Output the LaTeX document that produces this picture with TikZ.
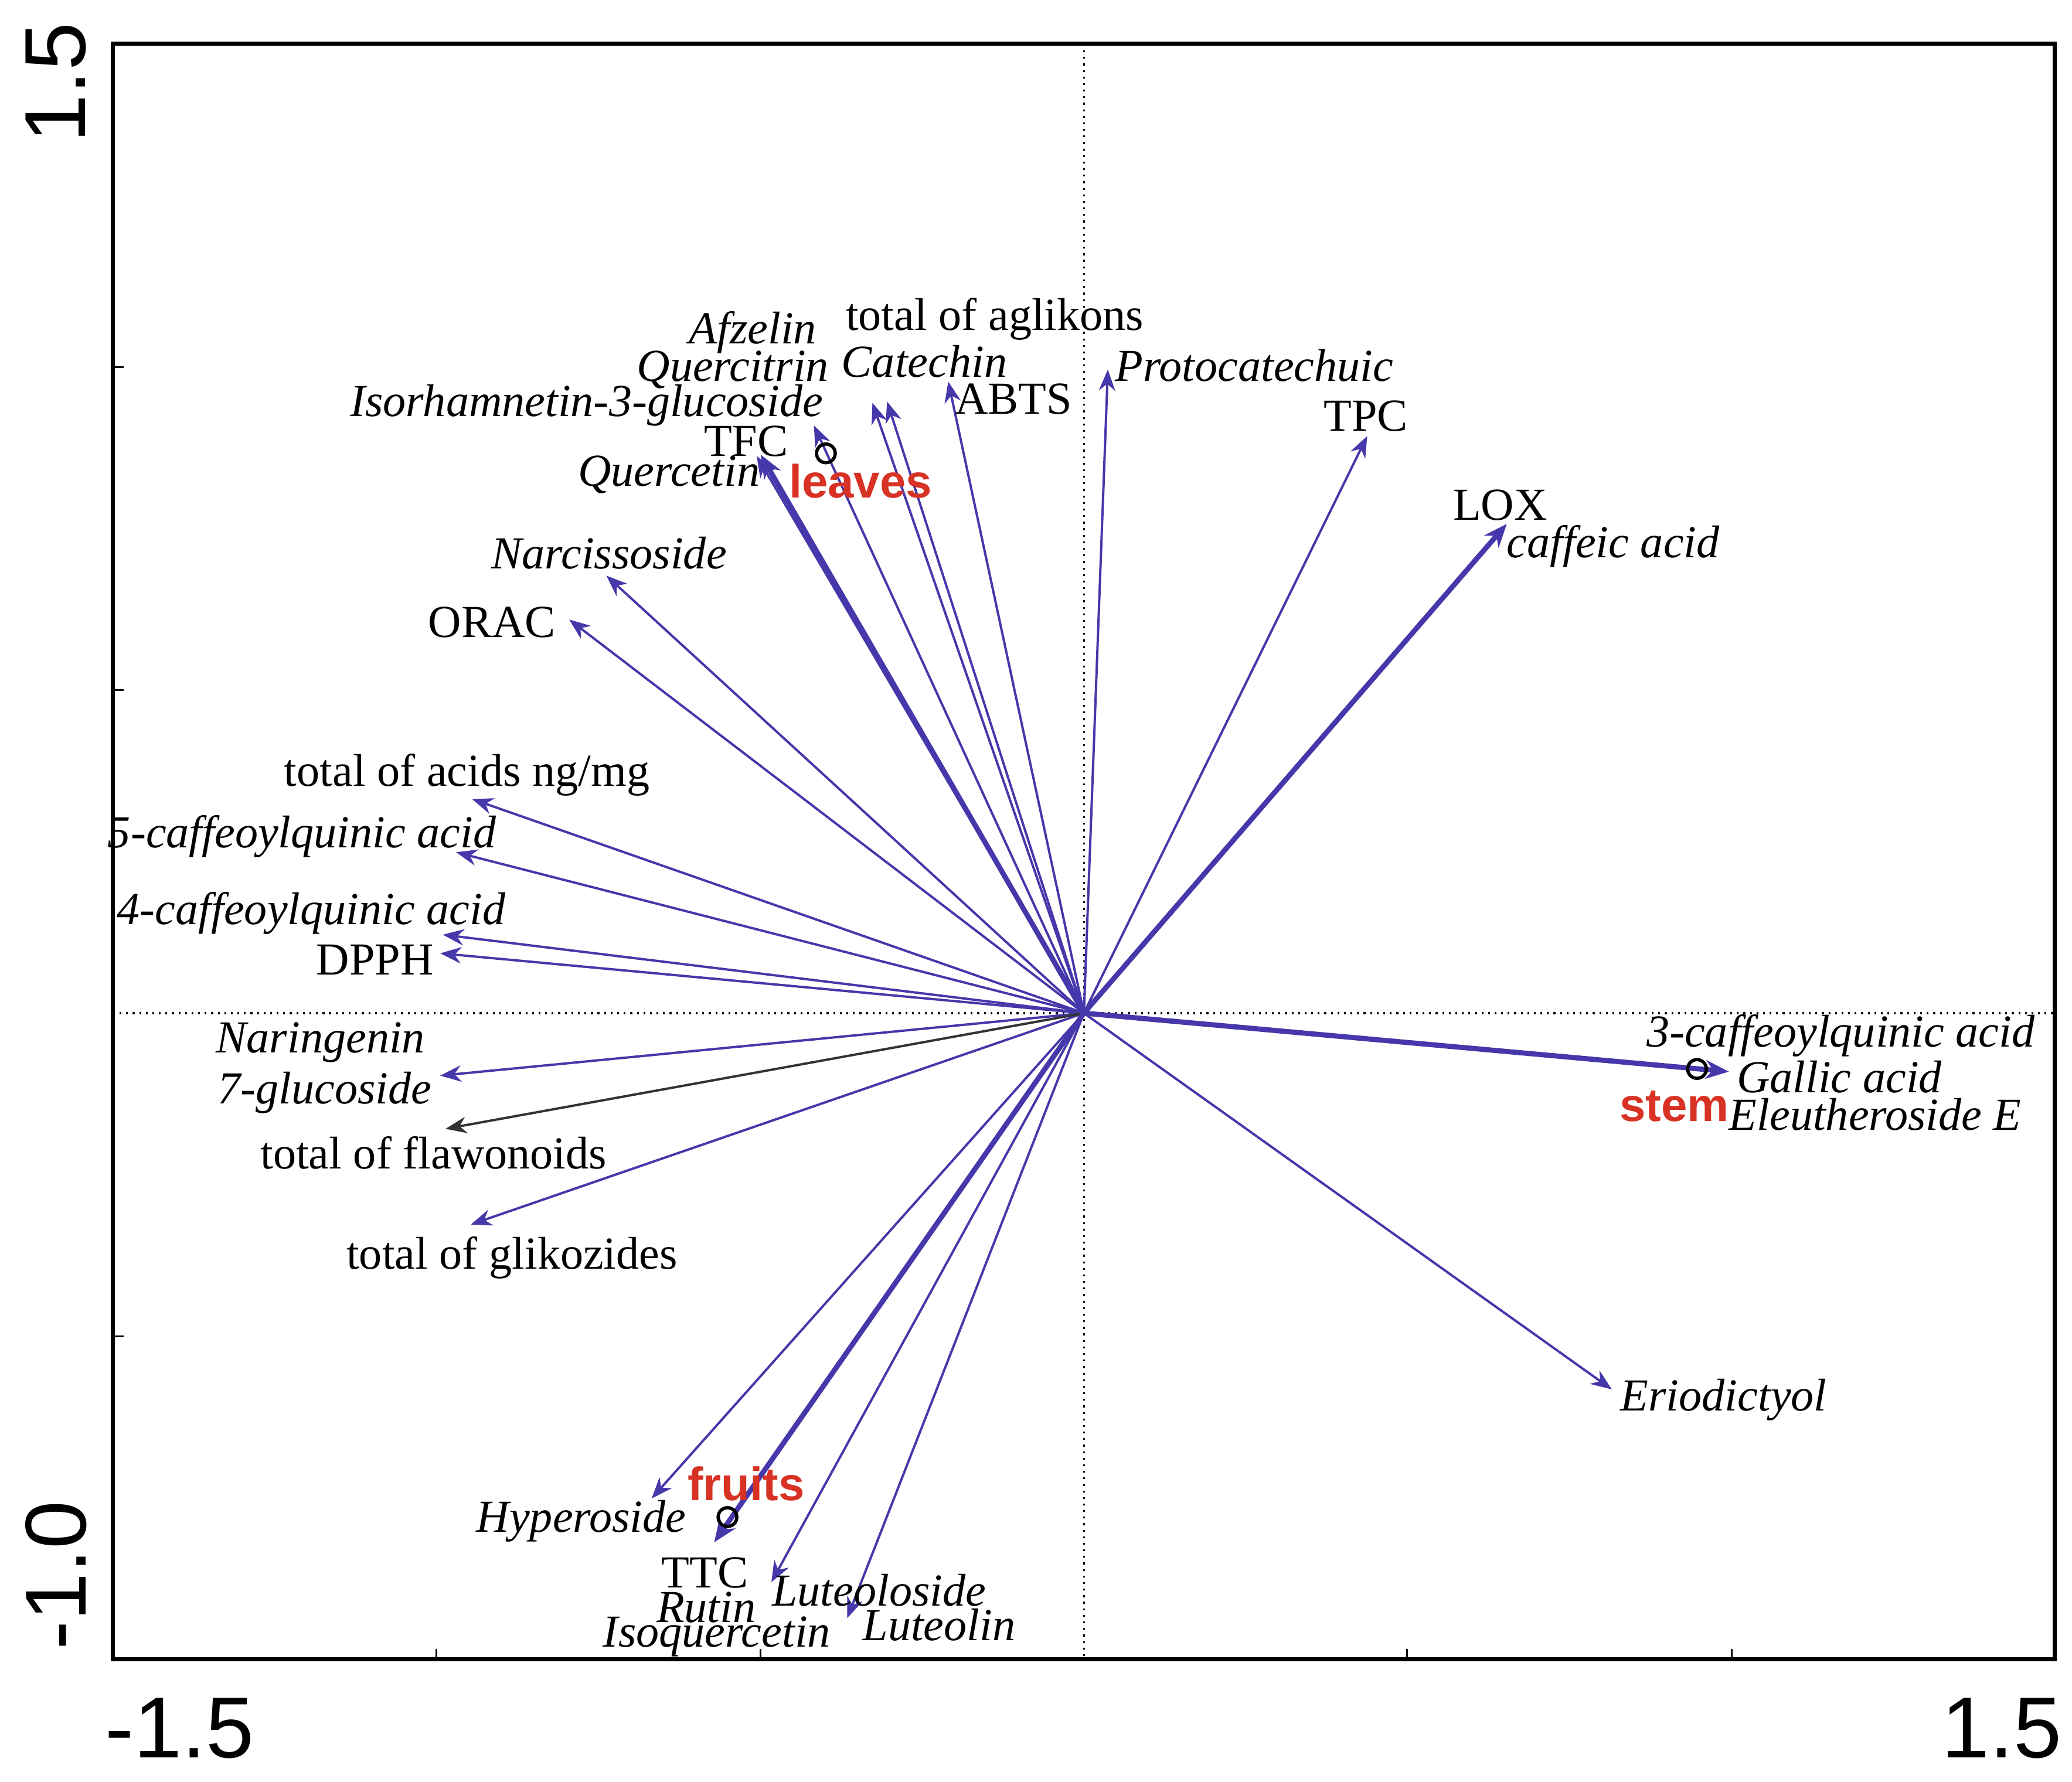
\documentclass[tikz,border=0pt]{standalone}
\usepackage{fontspec}
\setmainfont{Liberation Serif}
\newfontfamily\axfont{Liberation Sans}
\usetikzlibrary{arrows.meta}
\definecolor{arr}{RGB}{70,55,170}
\definecolor{lab}{RGB}{215,50,35}
\tikzset{
  vec/.style={arr,line width=0.5pt,-{Stealth[length=4.5pt,width=3.5pt]}},
  vecb/.style={arr,line width=1.1pt,-{Stealth[length=5pt,width=4pt]}},
  t/.style={font=\fontsize{9.8}{10}\selectfont,inner sep=0pt},
  ti/.style={font=\fontsize{9.8}{10}\selectfont\itshape,inner sep=0pt},
  grp/.style={font=\axfont\bfseries\fontsize{10}{10}\selectfont,text=lab,inner sep=0pt},
  ax/.style={font=\axfont\fontsize{18.5}{19}\selectfont,inner sep=0pt},
  pt/.style={circle,draw=black,line width=0.7pt,minimum size=4pt,inner sep=0pt}
}
\begin{document}
\begin{tikzpicture}[x=0.01cm,y=-0.01cm]
\useasboundingbox[fill=white] (0,0) rectangle (1558,1340);
\draw[line width=0.9pt] (85,33) rectangle (1545,1248);
\draw[densely dotted,line width=0.4pt] (815,33) -- (815,1248);
\draw[densely dotted,line width=0.4pt] (85,762) -- (1545,762);
\foreach \y in {276,519,1005} \draw (85,\y) -- (93,\y);
\foreach \x in {328,572,1058,1302} \draw (\x,1248) -- (\x,1240);
\node[ax,rotate=90] (y1) at (42,62) {1.5};
\node[ax,rotate=90] (y2) at (42,1185) {-1.0};
\node[ax] (x1) at (135,1300) {-1.5};
\node[ax] (x2) at (1505,1300) {1.5};
\coordinate (o) at (815,762);
\foreach \x/\y in {833/278,1028/328,713/287,667/302,656/303,612/320,569/343,456/433,428/466,355/601,343/641,333/703,331/717,331/809,354/921,490/1127,580/1190,637/1217,1212/1045}
  \draw[vec] (o) -- (\x,\y);
\draw[vec,black!80] (o) -- (335,849);
\draw[vecb] (o) -- (1133,394);
\draw[vecb] (o) -- (572,342);
\draw[vecb] (o) -- (537,1160);
\draw[vecb] (o) -- (1300,806);
\node[pt] (leaves) at (621,341) {};
\node[pt] (fruits) at (547,1141) {};
\node[pt] (stem) at (1276,804) {};
\node[t] (l1) at (748,240) {total of aglikons};
\node[ti] (l2) at (566,250) {Afzelin};
\node[ti] (l3) at (551,278) {Quercitrin};
\node[ti] (l4) at (695,272) {Catechin};
\node[ti] (l5) at (943,275) {Protocatechuic};
\node[ti] (l6) at (441,305) {Isorhamnetin-3-glucoside};
\node[t] (l7) at (762,300) {ABTS};
\node[t] (l8) at (1027,313) {TPC};
\node[t] (l9) at (561,332) {TFC};
\node[ti] (l10) at (503,357) {Quercetin};
\node[grp] (g1) at (647,362) {leaves};
\node[t] (l11) at (1128,380) {LOX};
\node[ti] (l12) at (1213,411) {caffeic acid};
\node[ti] (l13) at (458,416) {Narcissoside};
\node[t] (l14) at (370,468) {ORAC};
\node[t] (l15) at (351,583) {total of acids ng/mg};
\node[ti] (l16) at (227,629) {5-caffeoylquinic acid};
\node[ti] (l17) at (234,687) {4-caffeoylquinic acid};
\node[t] (l18) at (282,722) {DPPH};
\node[ti] (l19) at (241,784) {Naringenin};
\node[ti] (l20) at (244,822) {7-glucoside};
\node[t] (l21) at (326,867) {total of flawonoids};
\node[t] (l22) at (385,946) {total of glikozides};
\node[ti] (l23) at (1384,779) {3-caffeoylquinic acid};
\node[ti] (l24) at (1383,810) {Gallic acid};
\node[grp] (g2) at (1259,832) {stem};
\node[ti] (l25) at (1410,838) {Eleutheroside E};
\node[ti] (l26) at (1296,1053) {Eriodictyol};
\node[grp] (g3) at (561,1116) {fruits};
\node[ti] (l27) at (437,1144) {Hyperoside};
\node[t] (l28) at (530,1183) {TTC};
\node[ti] (l29) at (531,1209) {Rutin};
\node[ti] (l30) at (661,1196) {Luteoloside};
\node[ti] (l31) at (539,1231) {Isoquercetin};
\node[ti] (l32) at (706,1222) {Luteolin};
\end{tikzpicture}
\end{document}
